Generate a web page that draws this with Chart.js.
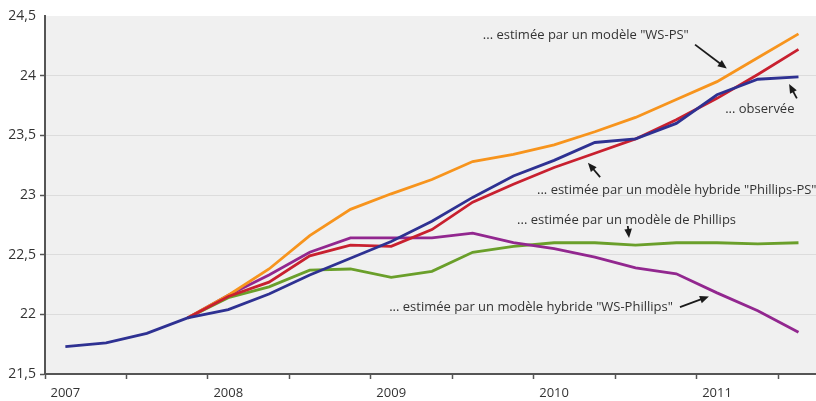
<!DOCTYPE html>
<html lang="fr">
<head>
<meta charset="utf-8">
<title>Salaire observé et estimé</title>
<script src="https://cdn.jsdelivr.net/npm/chart.js@4/dist/chart.umd.min.js"></script>
<style>
  html, body { margin: 0; padding: 0; background: #fff; }
  .chart-box { position: relative; width: 816px; height: 401px; }
</style>
</head>
<body>
<div class="chart-box"><canvas id="myChart"></canvas></div>
<script>
// trimestres (axe du bas)
const quarters = [
  "2007T1", "2007T2", "2007T3", "2007T4",
  "2008T1", "2008T2", "2008T3", "2008T4",
  "2009T1", "2009T2", "2009T3", "2009T4",
  "2010T1", "2010T2", "2010T3", "2010T4",
  "2011T1", "2011T2", "2011T3",
];
const yearLabels = ["2007", "2008", "2009", "2010", "2011"];
const yTicks = [21.5, 22, 22.5, 23, 23.5, 24, 24.5];

// séries
const observed = [21.73, 21.76, 21.84, 21.97, 22.04, 22.17, 22.33, 22.47, 22.61, 22.78, 22.98, 23.16, 23.29, 23.44, 23.47, 23.60, 23.84, 23.97, 23.99];
const wsPs = [null, null, null, 21.97, 22.16, 22.38, 22.66, 22.88, 23.01, 23.13, 23.28, 23.34, 23.42, 23.53, 23.65, 23.80, 23.95, 24.15, 24.35];
const phillipsPs = [null, null, null, 21.97, 22.15, 22.27, 22.49, 22.58, 22.57, 22.71, 22.94, 23.09, 23.23, 23.35, 23.47, 23.63, 23.81, 24.01, 24.22];
const phillips = [null, null, null, 21.97, 22.14, 22.23, 22.37, 22.38, 22.31, 22.36, 22.52, 22.57, 22.60, 22.60, 22.58, 22.60, 22.60, 22.59, 22.60];
const wsPhillips = [null, null, null, 21.97, 22.16, 22.33, 22.52, 22.64, 22.64, 22.64, 22.68, 22.60, 22.55, 22.48, 22.39, 22.34, 22.18, 22.03, 21.85];

window.addEventListener("DOMContentLoaded", () => {
  const ctx = document.getElementById("myChart").getContext("2d");

  Chart.defaults.font.family = "'Open Sans', sans-serif";
  Chart.defaults.font.size = 13;
  Chart.defaults.color = "#333";

  const axisColor = "#555";

  // {x: index du trimestre, y: valeur}
  const toPoints = (arr) =>
    arr.map((v, i) => ({ x: i, y: v })).filter((p) => p.y !== null);

  // libellés + flèches, en coordonnées du graphique
  const notes = [
    { text: '... estimée par un modèle "WS-PS"', at: [10.25, 24.34], from: [15.46, 24.26], to: [16.24, 24.06] },
    { text: "... observée", at: [16.2, 23.72], from: [17.96, 23.81], to: [17.77, 23.93] },
    { text: '... estimée par un modèle hybride "Phillips-PS"', at: [11.58, 23.04], from: [13.13, 23.15], to: [12.83, 23.27] },
    { text: "... estimée par un modèle de Phillips", at: [11.09, 22.79], from: [13.81, 22.74], to: [13.84, 22.64] },
    { text: '... estimée par un modèle hybride "WS-Phillips"', at: [7.95, 22.06], from: [15.09, 22.06], to: [15.8, 22.15] },
  ];

  // fond gris de la zone de tracé
  const plotBg = {
    id: "plotBg",
    beforeDraw(chart) {
      const { ctx, chartArea: a } = chart;
      ctx.save();
      ctx.fillStyle = "#f0f0f0";
      ctx.fillRect(a.left, a.top, a.right - a.left, a.bottom - a.top);
      ctx.restore();
    },
  };

  function arrow(c, x1, y1, x2, y2) {
    const ang = Math.atan2(y2 - y1, x2 - x1);
    const len = 9;
    const w = 3.8;
    c.beginPath();
    c.moveTo(x1, y1);
    c.lineTo(x2 - Math.cos(ang) * len * 0.8, y2 - Math.sin(ang) * len * 0.8);
    c.stroke();
    c.beginPath();
    c.moveTo(x2, y2);
    c.lineTo(x2 - Math.cos(ang) * len - Math.sin(ang) * w, y2 - Math.sin(ang) * len + Math.cos(ang) * w);
    c.lineTo(x2 - Math.cos(ang) * len + Math.sin(ang) * w, y2 - Math.sin(ang) * len - Math.cos(ang) * w);
    c.closePath();
    c.fill();
  }

  const annotations = {
    id: "annotations",
    afterDatasetsDraw(chart) {
      const { ctx, scales } = chart;
      const px = (p) => [scales.x.getPixelForValue(p[0]), scales.y.getPixelForValue(p[1])];
      ctx.save();
      ctx.font = "13px 'Open Sans', sans-serif";
      ctx.textBaseline = "middle";
      ctx.textAlign = "left";
      ctx.strokeStyle = "#1a1a1a";
      ctx.lineWidth = 1.8;
      notes.forEach((n) => {
        const [tx, ty] = px(n.at);
        ctx.fillStyle = "#333";
        ctx.fillText(n.text, tx, ty);
        const [x1, y1] = px(n.from);
        const [x2, y2] = px(n.to);
        ctx.fillStyle = "#1a1a1a";
        arrow(ctx, x1, y1, x2, y2);
      });
      ctx.restore();
    },
  };

  const line = (data, color) => ({
    data: toPoints(data),
    borderColor: color,
    borderWidth: 2.8,
    pointRadius: 0,
    tension: 0,
    fill: false,
  });

  new Chart(ctx, {
    type: "line",
    data: {
      datasets: [
        line(observed, "#2e3192"),
        line(phillipsPs, "#c8202f"),
        line(wsPs, "#f7941d"),
        line(wsPhillips, "#92278f"),
        line(phillips, "#6a9f2a"),
      ],
    },
    options: {
      responsive: true,
      maintainAspectRatio: false,
      animation: false,
      layout: { padding: { top: 16, right: 0, left: 0, bottom: 0 } },
      plugins: {
        legend: { display: false },
        tooltip: { enabled: false },
      },
      scales: {
        x: {
          type: "linear",
          min: -0.5,
          max: 18.43, // le dernier trimestre est coupé par le bord
          afterBuildTicks(scale) {
            const t = [];
            quarters.forEach((q, i) => {
              if (i % 2 === 0) t.push({ value: i - 0.5 });
              if (q.endsWith("T1")) t.push({ value: i });
            });
            scale.ticks = t.sort((a, b) => a.value - b.value);
          },
          afterFit(scale) {
            scale.height = 27;
          },
          grid: {
            drawOnChartArea: false,
            tickLength: 5,
            tickWidth: 1.5,
            tickColor: (c) => (Number.isInteger(c.tick.value) ? "rgba(0,0,0,0)" : axisColor),
          },
          border: { color: axisColor, width: 2 },
          ticks: {
            autoSkip: false,
            maxRotation: 0,
            padding: 6,
            font: { size: 13 },
            callback: (v) => (Number.isInteger(v) && v % 4 === 0 ? yearLabels[v / 4] : ""),
          },
        },
        y: {
          min: 21.5,
          max: 24.5,
          afterBuildTicks(scale) {
            scale.ticks = yTicks.map((v) => ({ value: v }));
          },
          afterFit(scale) {
            scale.width = 45;
          },
          grid: {
            color: (c) => (c.tick.value === 24.5 || c.tick.value === 21.5 ? "rgba(0,0,0,0)" : "#dcdcdc"),
            lineWidth: 1,
            tickLength: 5,
            tickWidth: 1.5,
            tickColor: (c) => (c.tick.value === 24.5 ? "rgba(0,0,0,0)" : axisColor),
          },
          border: { color: axisColor, width: 2 },
          ticks: {
            padding: 4,
            font: { size: 14 },
            callback: (v) => String(v).replace(".", ","),
          },
        },
      },
    },
    plugins: [plotBg, annotations],
  });
});
</script>
</body>
</html>
